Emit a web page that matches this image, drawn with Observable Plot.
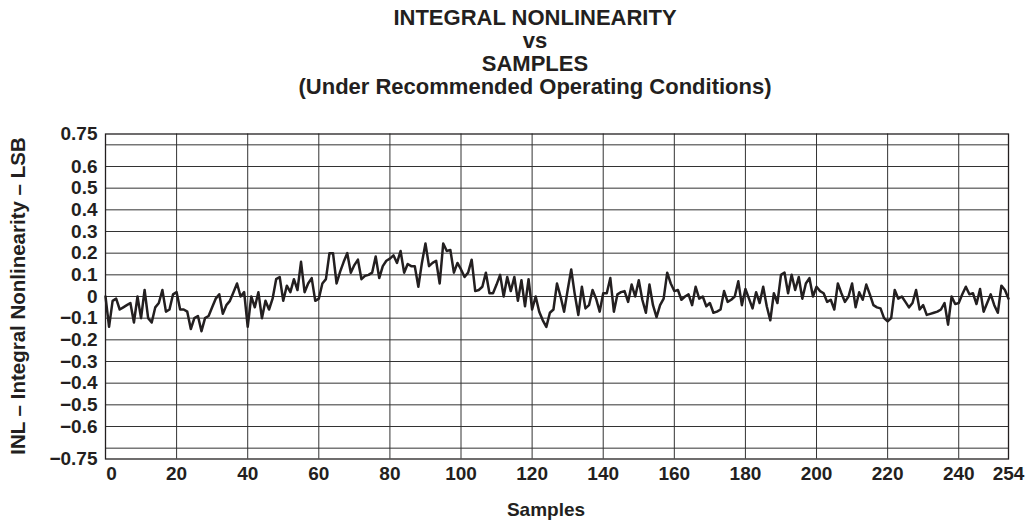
<!DOCTYPE html>
<html><head><meta charset="utf-8">
<script src="https://cdn.jsdelivr.net/npm/d3@7"></script>
<script src="https://cdn.jsdelivr.net/npm/@observablehq/plot@0.6"></script>
<style>
body{margin:0;background:#fff;font-family:"Liberation Sans",Arial,sans-serif;}
#wrap{position:relative;width:1027px;height:521px;overflow:hidden;}
#title{position:absolute;left:0;top:6px;width:1070px;text-align:center;font-weight:bold;font-size:22px;line-height:23px;color:#231f20;}
#chart{position:absolute;left:0;top:110px;}
#ylab{position:absolute;left:-182px;top:284px;width:400px;height:24px;line-height:24px;text-align:center;transform:rotate(-90deg);font-weight:bold;font-size:20.5px;color:#231f20;}
#xlab{position:absolute;left:346px;top:498px;width:400px;line-height:24px;text-align:center;font-weight:bold;font-size:19px;color:#231f20;}
</style></head><body>
<div id="wrap">
<div id="title">INTEGRAL NONLINEARITY<br>vs<br>SAMPLES<br>(Under Recommended Operating Conditions)</div>
<div id="chart"></div>
<div id="ylab">INL – Integral Nonlinearity – LSB</div>
<div id="xlab">Samples</div>
</div>
<script>
const inl = [
0, -0.14, -0.02, -0.01, -0.06, -0.05, -0.04, -0.03, -0.12, 0.0,
-0.1, 0.03, -0.1, -0.12, -0.05, -0.03, 0.03, -0.07, -0.06, 0.01,
0.02, -0.06, -0.06, -0.07, -0.15, -0.1, -0.09, -0.16, -0.1, -0.09,
-0.05, -0.01, 0.01, -0.08, -0.04, -0.02, 0.02, 0.06, 0.0, 0.02,
-0.14, 0.0, -0.05, 0.02, -0.1, -0.02, -0.06, -0.01, 0.08, 0.09,
-0.02, 0.05, 0.02, 0.08, 0.03, 0.16, 0.02, 0.06, 0.085, -0.02,
-0.01, 0.06, 0.08, 0.2, 0.2, 0.06, 0.115, 0.16, 0.2, 0.11,
0.145, 0.17, 0.08, 0.095, 0.1, 0.11, 0.185, 0.085, 0.14, 0.165,
0.175, 0.19, 0.155, 0.21, 0.11, 0.15, 0.14, 0.14, 0.045, 0.155,
0.245, 0.14, 0.155, 0.165, 0.06, 0.245, 0.21, 0.215, 0.11, 0.155,
0.125, 0.09, 0.11, 0.17, 0.025, 0.03, 0.045, 0.11, 0.015, 0.015,
0.055, 0.1, 0.0, 0.09, 0.025, 0.09, -0.02, 0.075, -0.045, 0.08,
-0.06, 0.0, -0.07, -0.11, -0.14, -0.075, -0.06, 0.06, 0.0, -0.07,
0.03, 0.125, 0.01, -0.085, 0.045, -0.055, -0.04, 0.03, -0.01, -0.07,
0.015, 0.015, 0.085, -0.07, 0.01, 0.02, 0.025, -0.025, 0.055, 0.0,
0.075, -0.015, -0.075, 0.055, -0.04, -0.095, -0.04, -0.01, 0.11, 0.06,
0.025, 0.03, -0.015, 0.0, 0.01, -0.04, 0.045, -0.01, 0.0, -0.045,
-0.03, -0.075, -0.07, -0.06, 0.025, -0.025, -0.015, 0.0, 0.07, -0.04,
0.035, -0.01, -0.055, 0.02, -0.03, 0.045, -0.045, -0.11, 0.015, -0.03,
0.1, 0.11, 0.015, 0.1, 0.03, 0.09, -0.01, 0.06, 0.085, 0.0,
0.045, 0.025, 0.015, -0.025, -0.015, -0.06, 0.06, 0.015, -0.025, 0.0,
0.06, -0.05, 0.02, -0.015, 0.055, 0.01, -0.04, -0.05, -0.055, -0.1,
-0.115, -0.1, 0.03, -0.01, 0.0, -0.025, -0.05, -0.03, 0.03, -0.06,
-0.04, -0.085, -0.08, -0.075, -0.07, -0.06, -0.03, -0.13, 0.0, -0.035,
-0.03, 0.01, 0.045, 0.01, 0.015, -0.035, 0.035, -0.07, -0.03, 0.01,
-0.04, -0.075, 0.05, 0.03, -0.01
];
const samples = inl.map((_, i) => i);
const xTicks = [20, 40, 60, 80, 100, 120, 140, 160, 180, 200, 220, 240, 254];
const xFirstTick = [0];
const xGrid = [20, 40, 60, 80, 100, 120, 140, 160, 180, 200, 220, 240];
const yTicks = [0.75, 0.6, 0.5, 0.4, 0.3, 0.2, 0.1, 0, -0.1, -0.2, -0.3, -0.4, -0.5, -0.6, -0.75];
const yTickLabels = ["0.75", "0.6", "0.5", "0.4", "0.3", "0.2", "0.1", "0", "\u22120.1", "\u22120.2", "\u22120.3", "\u22120.4", "\u22120.5", "\u22120.6", "\u22120.75"];
const yGrid = [-0.7, -0.6, -0.5, -0.4, -0.3, -0.2, -0.1, 0, 0.1, 0.2, 0.3, 0.4, 0.5, 0.6, 0.7];

const data = samples.map((s, i) => ({sample: s, inl: inl[i]}));
const yLabelMap = new Map(yTicks.map((v, i) => [v, yTickLabels[i]]));
const ink = "#231f20";

const chart = Plot.plot({
  width: 1027,
  height: 411,
  marginTop: 23.5,
  marginBottom: 62.5,
  marginLeft: 105,
  marginRight: 19,
  x: {domain: [0, 254]},
  y: {domain: [-0.75, 0.75]},
  style: {fontFamily: "Liberation Sans, Arial, sans-serif", fontWeight: "bold", fontSize: "20px", color: ink, background: "white", overflow: "visible"},
  marks: [
    Plot.ruleY(yGrid, {stroke: "#333", strokeWidth: 1}),
    Plot.ruleX(xGrid, {stroke: "#333", strokeWidth: 1}),
    Plot.frame({stroke: ink, strokeWidth: 1.3}),
    Plot.line(data, {x: "sample", y: "inl", stroke: ink, strokeWidth: 2.5}),
    Plot.axisY(yTicks, {tickSize: 0, tickPadding: 8, tickFormat: d => yLabelMap.get(d), label: null, fontSize: 19}),
    Plot.axisX(xFirstTick, {tickSize: 0, tickPadding: 7, dx: 6, label: null, fontSize: 19}),
    Plot.axisX(xTicks, {tickSize: 0, tickPadding: 7, label: null, fontSize: 19})
  ]
});
document.getElementById("chart").appendChild(chart);
</script>
</body></html>
